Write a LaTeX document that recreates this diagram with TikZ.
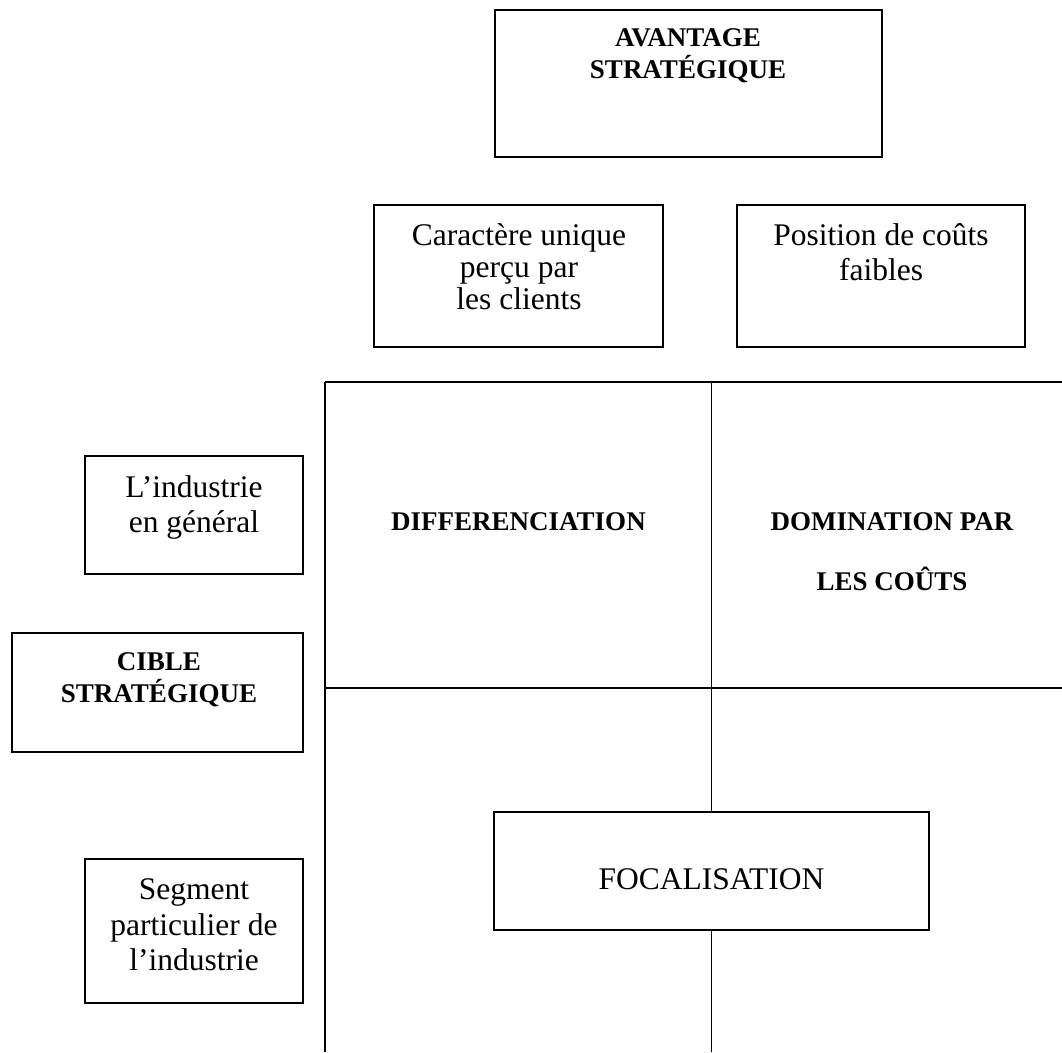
\documentclass[tikz,border=0pt]{standalone}
\usepackage{fontspec}
\setmainfont{Liberation Serif}
\begin{document}
\begin{tikzpicture}[x=1pt,y=-1pt,
  box/.style={draw, line width=2pt, rectangle, inner sep=0pt},
  reg/.style={font=\fontsize{31.5}{32}\selectfont, align=center, anchor=north, inner sep=0pt},
  bld/.style={font=\fontsize{27}{32}\selectfont\bfseries, align=center, anchor=north, inner sep=0pt},
  gridline/.style={line width=1.4pt}]
\useasboundingbox (0,0) rectangle (1062,1052);
\fill[white] (0,0) rectangle (1062,1052);

% boxes
\node[box, minimum width=387pt, minimum height=147pt] (av) at (688.5,83.5) {};
\node[box, minimum width=289pt, minimum height=142pt] (car) at (518.5,276) {};
\node[box, minimum width=288pt, minimum height=142pt] (pos) at (881,276) {};
\node[box, minimum width=218pt, minimum height=118pt] (ind) at (194,515) {};
\node[box, minimum width=291pt, minimum height=119pt] (cib) at (157.5,692.5) {};
\node[box, minimum width=218pt, minimum height=144pt] (seg) at (194,931) {};
\node[box, minimum width=435pt, minimum height=118pt] (foc) at (711.5,871) {};

% texts
\node[bld] (avT) at (688,28) {AVANTAGE\\STRATÉGIQUE};
\node[reg] (carT) at (519,223) {Caractère unique\\perçu par\\les clients};
\node[reg] (posT) at (881,223) {Position de coûts\\[3pt]faibles};
\node[reg] (indT) at (194,475) {L’industrie\\[3pt]en général};
\node[bld] (cibT) at (159,652) {CIBLE\\STRATÉGIQUE};
\node[reg] (segT) at (194,878) {Segment\\[4pt]particulier de\\[3pt]l’industrie};
\node[bld] (difT) at (518.5,512) {DIFFERENCIATION};
\node[bld] (domT) at (892,512) {DOMINATION PAR\\[28pt]LES COÛTS};
\node[reg] (focT) at (711.5,868) {FOCALISATION};

% grid
\coordinate (tl) at (325,382);
\coordinate (tr) at (1062,382);
\coordinate (ml) at (325,688);
\coordinate (mr) at (1062,688);
\coordinate (bl) at (325,1052);
\coordinate (tm) at (711.5,382);
\coordinate (bm) at (711.5,1052);
\draw[gridline] (tl) -- (tr);
\draw[gridline] (ml) -- (mr);
\draw[gridline] (tl) -- (bl);
\draw[gridline] (tm) -- (foc.north);
\draw[gridline] (foc.south) -- (bm);
\end{tikzpicture}
\end{document}
